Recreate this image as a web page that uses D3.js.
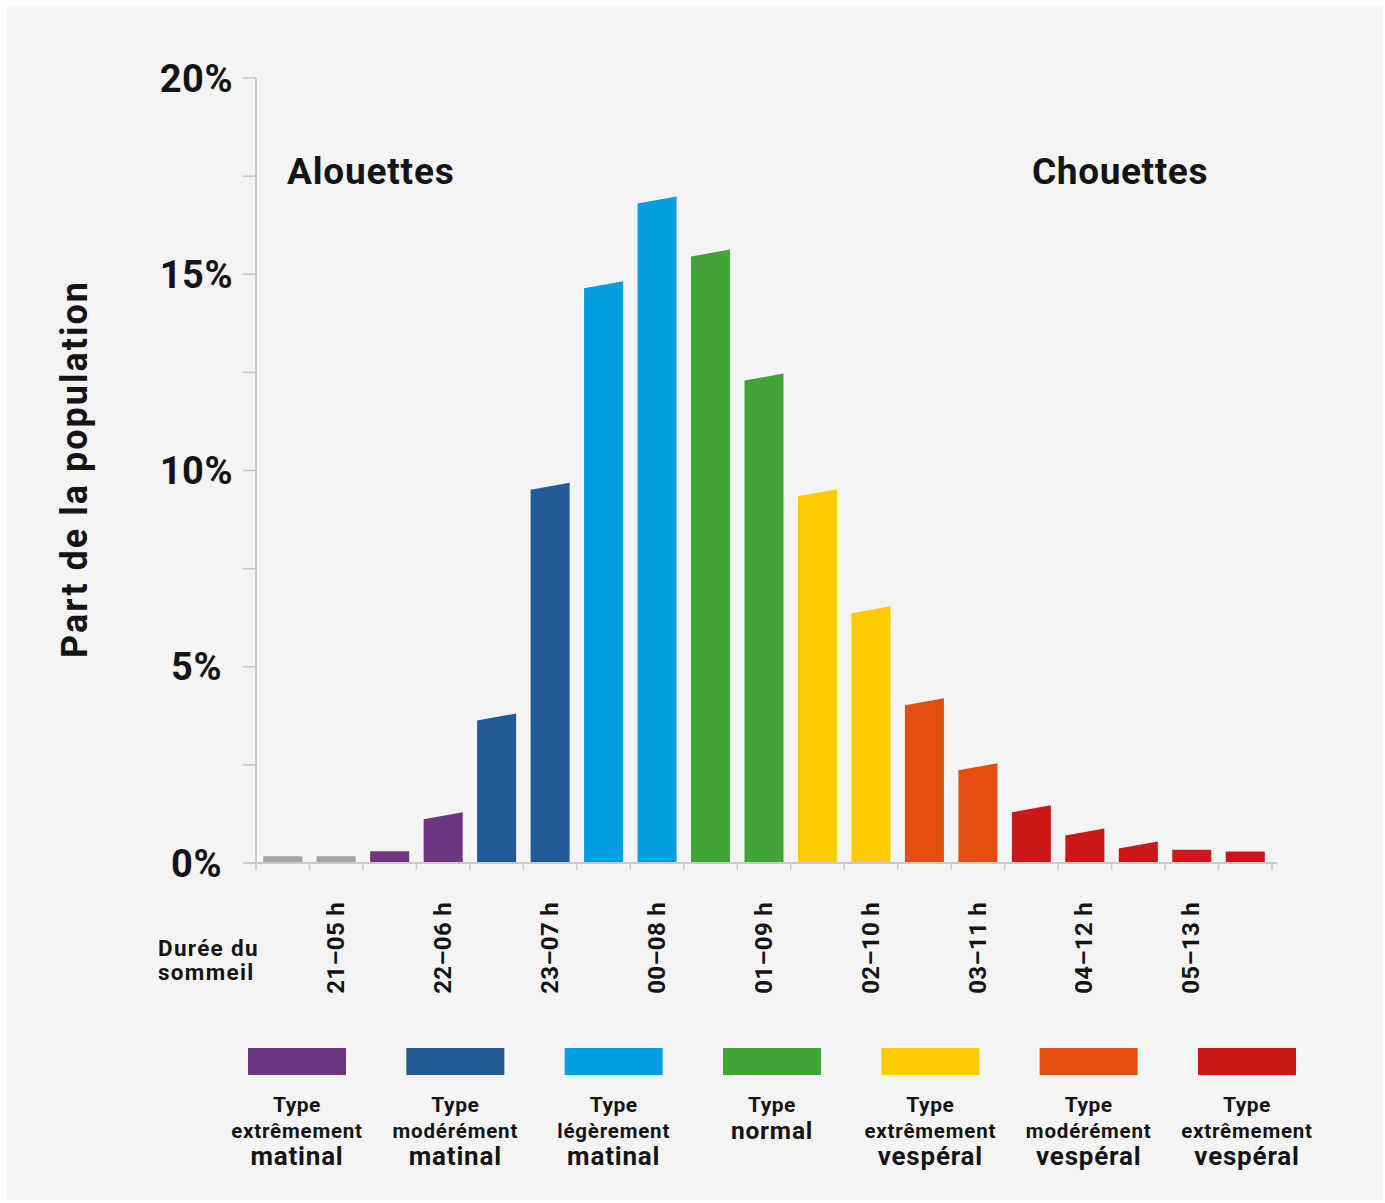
<!DOCTYPE html>
<html>
<head>
<meta charset="utf-8">
<script src="https://cdn.jsdelivr.net/npm/d3@7"></script>
<style>
  html, body { margin: 0; padding: 0; background: #ffffff; }
  svg { display: block; }
  text { font-family: Roboto, "DejaVu Sans", sans-serif; font-weight: 700; fill: #141414; }
</style>
</head>
<body>
<svg id="chart" width="1385" height="1203"></svg>
<script>
// ---------- DATA ----------
// sleep-onset time of each half-hour bar
const categories = ["20:30","21:00","21:30","22:00","22:30","23:00","23:30","00:00","00:30",
  "01:00","01:30","02:00","02:30","03:00","03:30","04:00","04:30","05:00","05:30"];
// share of the population (%)
const values = [0.17, 0.17, 0.30, 1.29, 3.81, 9.69, 14.82, 16.98, 15.63, 12.47, 9.52, 6.54,
  4.20, 2.54, 1.47, 0.88, 0.55, 0.34, 0.29];
// chronotype of each bar
const barTypes = ["none","none","xm","xm","mm","mm","lm","lm","n","n","xv","xv","mv","mv",
  "ev","ev","ev","ev","ev"];
// labelled sleep windows
const tickCategories = ["21:00","22:00","23:00","00:00","01:00","02:00","03:00","04:00","05:00"];
const tickLabels = ["21–05 h","22–06 h","23–07 h","00–08 h","01–09 h","02–10 h","03–11 h","04–12 h","05–13 h"];
// y ticks
const yTicks = [0, 2.5, 5, 7.5, 10, 12.5, 15, 17.5, 20];
const yTickLabels = ["0%", "", "5%", "", "10%", "", "15%", "", "20%"];
// legend
const legendKeys = ["xm","mm","lm","n","xv","mv","ev"];
const legendLine1 = ["Type","Type","Type","Type","Type","Type","Type"];
const legendLine2 = ["extrêmement","modérément","légèrement","normal","extrêmement","modérément","extrêmement"];
const legendLine3 = ["matinal","matinal","matinal","","vespéral","vespéral","vespéral"];
const colorKeys = ["none","xm","mm","lm","n","xv","mv","ev"];
const colorValues = ["#a3a3a3","#6e3580","#215a99","#029fe0","#41a535","#fecb00","#e44f10","#cc1618"];

// ---------- LAYOUT ----------
const svg = d3.select("#chart");
svg.append("rect").attr("x", 7).attr("y", 7).attr("width", 1376).attr("height", 1193).attr("fill", "#f4f4f4");

const color = d3.scaleOrdinal().domain(colorKeys).range(colorValues);
const x = d3.scaleBand().domain(categories).range([256, 1272]).paddingInner(0.27).paddingOuter(0.135);
const y = d3.scaleLinear().domain([0, 20]).range([863, 78]);
const axisColor = "#c9c9c9";
const slant = 7;

// y axis
svg.append("line").attr("x1", 256).attr("x2", 256).attr("y1", y(20)).attr("y2", y(0))
  .attr("stroke", axisColor).attr("stroke-width", 2);
svg.selectAll(".ytick").data(yTicks).join("line")
  .attr("x1", 243).attr("x2", 256).attr("y1", d => y(d)).attr("y2", d => y(d))
  .attr("stroke", axisColor).attr("stroke-width", 1.5);
svg.selectAll(".ylab").data(yTicks).join("text")
  .attr("x", d => d < 10 ? 222 : 233).attr("y", d => y(d)).attr("dy", "0.36em")
  .attr("text-anchor", "end").attr("font-size", 38).attr("letter-spacing", 0.5)
  .text((d, i) => yTickLabels[i]);

// bars with slanted tops
const gap = x.step() - x.bandwidth();
svg.selectAll(".bar").data(values).join("path")
  .attr("fill", (d, i) => color(barTypes[i]))
  .attr("d", (d, i) => {
    const x0 = x(categories[i]), x1 = x0 + x.bandwidth();
    const top = y(d), s = d >= 0.5 ? slant : 0;
    return `M${x0},${y(0)}L${x0},${top + s}L${x1},${top}L${x1},${y(0)}Z`;
  });

// x axis
svg.append("line").attr("x1", 248).attr("x2", 1277).attr("y1", y(0)).attr("y2", y(0))
  .attr("stroke", axisColor).attr("stroke-width", 2);
const boundaries = categories.map(c => x(c) - gap / 2).concat([x(categories[categories.length - 1]) + x.bandwidth() + gap / 2]);
svg.selectAll(".xtick").data(boundaries).join("line")
  .attr("x1", d => d).attr("x2", d => d).attr("y1", y(0)).attr("y2", y(0) + 7)
  .attr("stroke", axisColor).attr("stroke-width", 1.5);

svg.selectAll(".xlab").data(tickLabels).join("text")
  .attr("transform", (d, i) => `translate(${x(tickCategories[i]) + x.bandwidth() / 2 - 1},902) rotate(-90)`)
  .attr("dy", "0.36em").attr("text-anchor", "end").attr("font-size", 24).attr("letter-spacing", 0.3)
  .text(d => d);

svg.append("text").attr("x", 158).attr("y", 956).attr("font-size", 22.5).attr("letter-spacing", 1.3).text("Durée du");
svg.append("text").attr("x", 158).attr("y", 980).attr("font-size", 22.5).attr("letter-spacing", 1.3).text("sommeil");

// titles
svg.append("text").attr("x", 287).attr("y", 184).attr("font-size", 37).attr("letter-spacing", 0.8).text("Alouettes");
svg.append("text").attr("x", 1208).attr("y", 184).attr("font-size", 37).attr("letter-spacing", 0.6)
  .attr("text-anchor", "end").text("Chouettes");
svg.append("text").attr("transform", "translate(87,469) rotate(-90)")
  .attr("text-anchor", "middle").attr("font-size", 36).attr("letter-spacing", 2).text("Part de la population");

// legend
const lx = d3.scalePoint().domain(legendKeys).range([297, 1247]);
const lg = svg.selectAll(".leg").data(legendKeys).join("g")
  .attr("transform", d => `translate(${lx(d)},0)`);
lg.append("rect").attr("x", -49).attr("y", 1048).attr("width", 98).attr("height", 27)
  .attr("fill", d => color(d));
lg.append("text").attr("y", 1112).attr("text-anchor", "middle").attr("font-size", 21).attr("letter-spacing", 0.5)
  .text((d, i) => legendLine1[i]);
lg.append("text").attr("y", (d, i) => legendLine3[i] === "" ? 1139 : 1138).attr("text-anchor", "middle")
  .attr("font-size", (d, i) => legendLine3[i] === "" ? 24.5 : 20.5).attr("letter-spacing", 0.8)
  .text((d, i) => legendLine2[i]);
lg.append("text").attr("y", 1165).attr("text-anchor", "middle").attr("font-size", 26).attr("letter-spacing", 0.8)
  .text((d, i) => legendLine3[i]);
</script>
</body>
</html>
